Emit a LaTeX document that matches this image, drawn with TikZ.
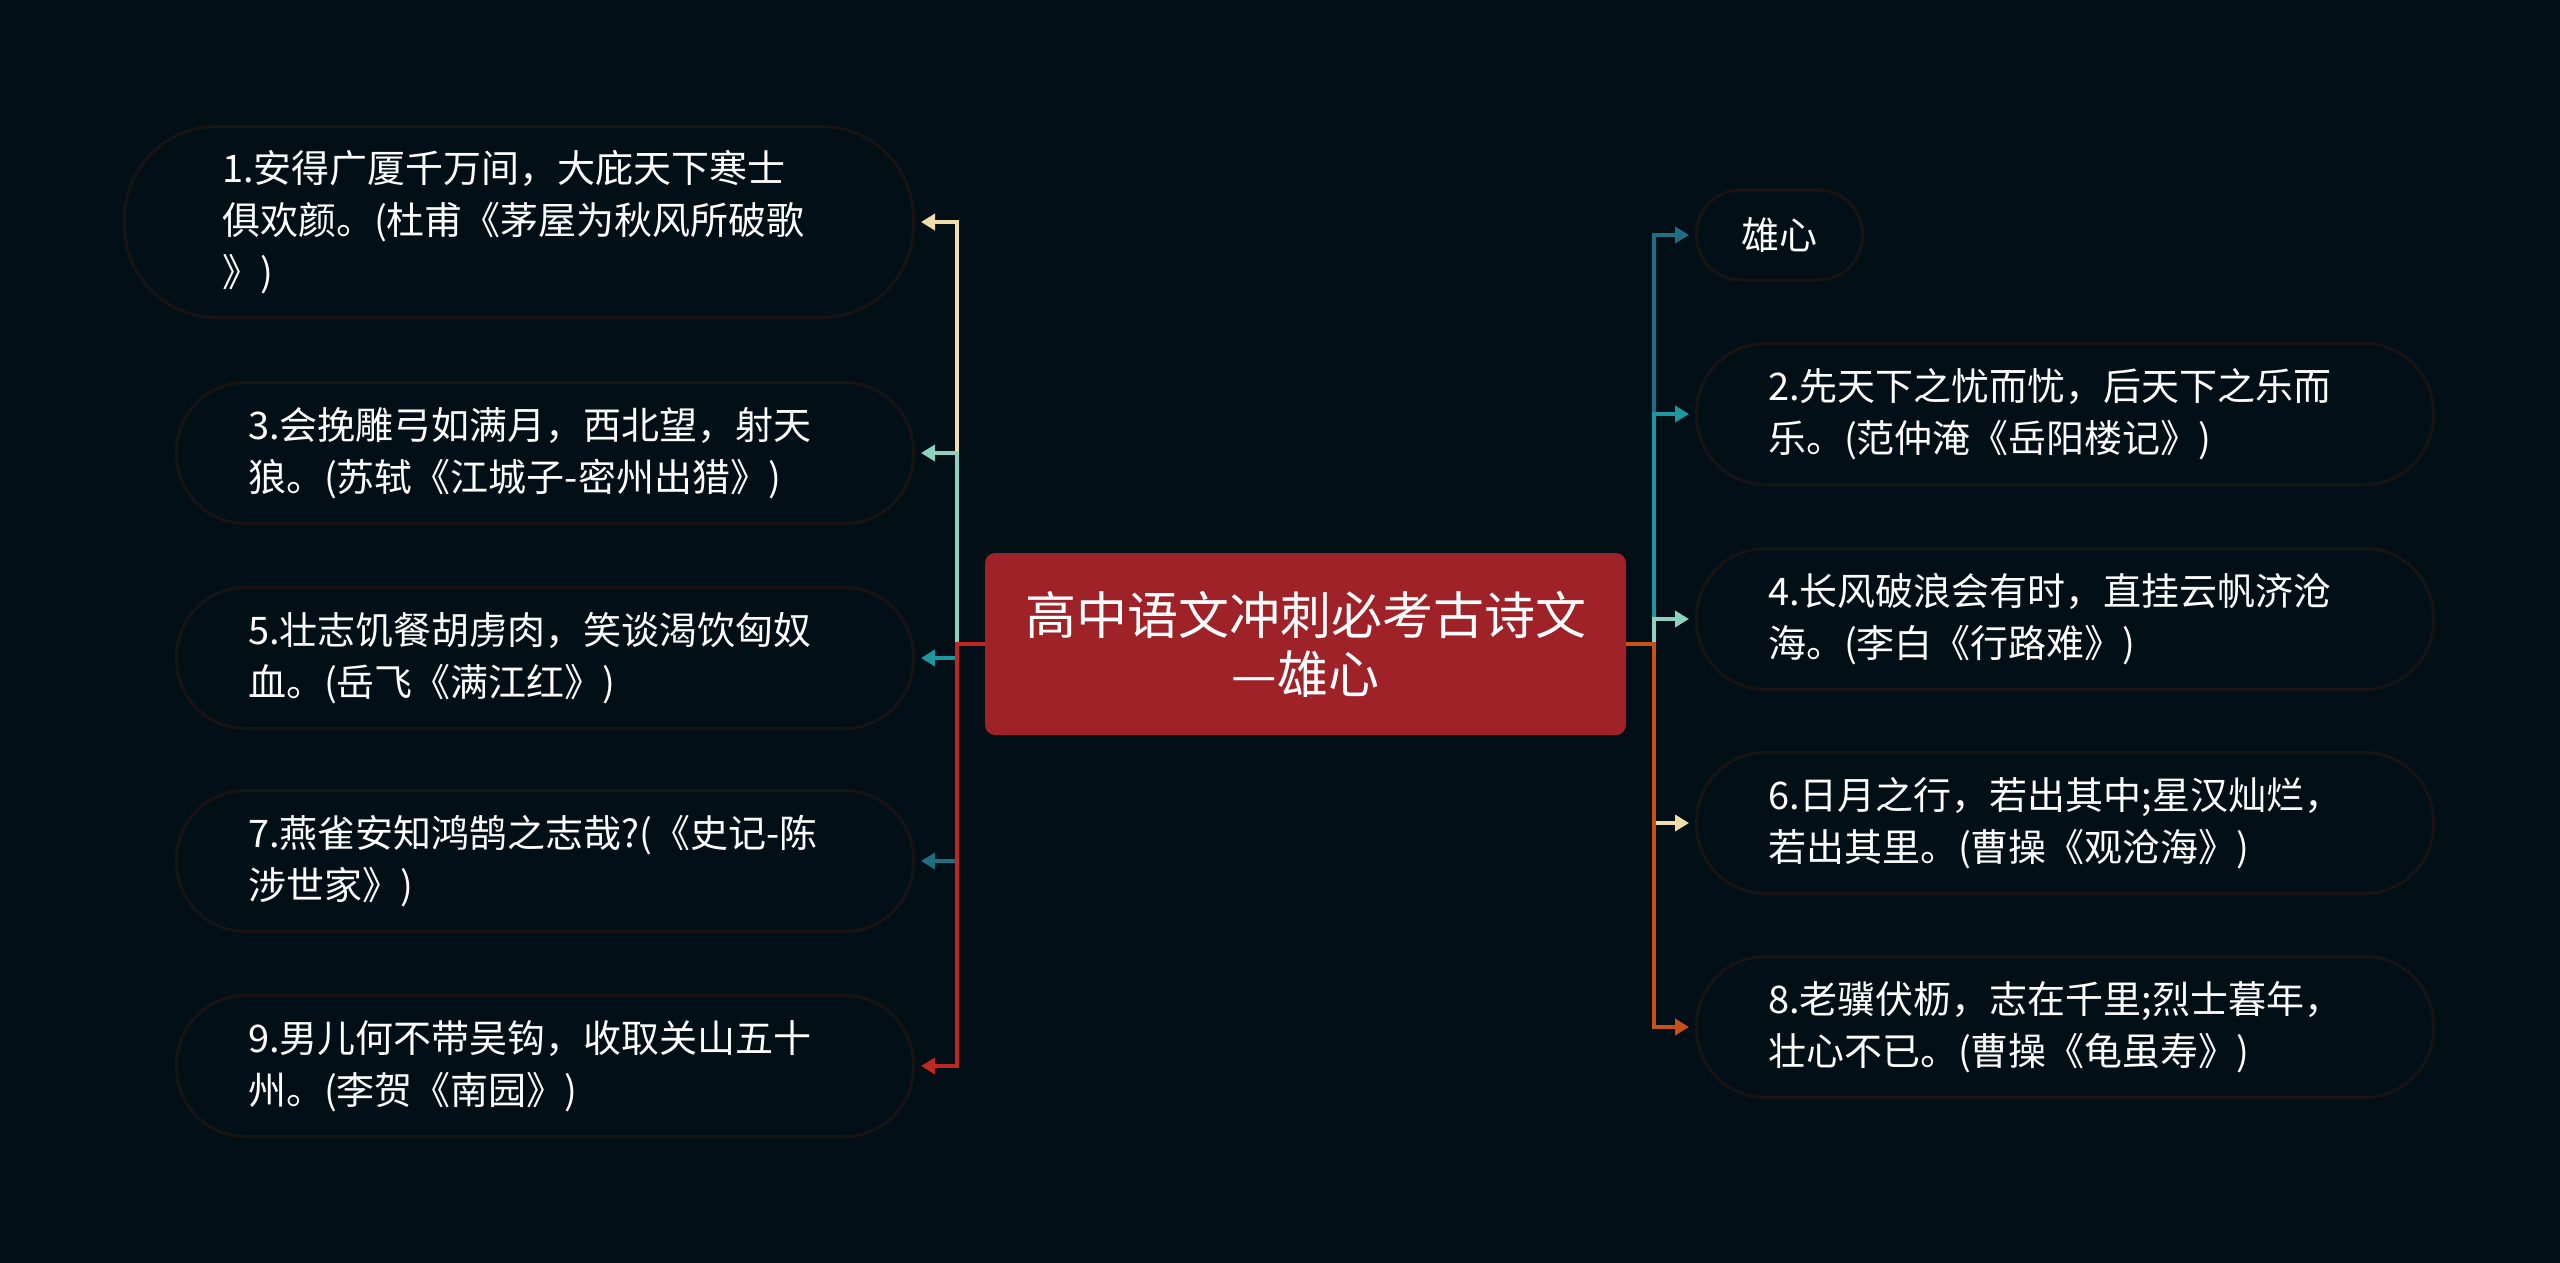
\documentclass[tikz,border=0pt]{standalone}
\usepackage{fontspec}
\setmainfont{Noto Sans CJK SC}
\usetikzlibrary{arrows.meta}
\definecolor{bg}{HTML}{030F17}
\definecolor{boxline}{HTML}{181414}
\definecolor{mainred}{HTML}{9E2228}
\definecolor{cream}{HTML}{F0DEAA}
\definecolor{mint}{HTML}{8DD1BE}
\definecolor{tealc}{HTML}{1E98A0}
\definecolor{darkteal}{HTML}{1F6E82}
\definecolor{redc}{HTML}{BE2823}
\definecolor{orangec}{HTML}{C85019}
\begin{document}
\begin{tikzpicture}[x=1pt,y=-1pt,
  leafbox/.style={draw=boxline, line width=3pt, fill=bg, text=white, align=left,
    text width=594pt, font=\fontsize{38pt}{52pt}\selectfont,
    rounded corners=69pt, inner ysep=0pt, inner xsep=71.5pt, minimum height=141pt},
  centerbox/.style={fill=mainred, rounded corners=10pt, minimum width=641pt,
    minimum height=182pt, align=center, text=white, inner sep=0pt,
    font=\fontsize{51pt}{59pt}\selectfont},
  conn/.style={line width=3.5pt, -{Triangle[length=14pt,width=16pt]}, shorten >=6pt}]
\path[fill=bg] (0,0) rectangle (2560,1263);
% center
\node[centerbox] (C) at (1305.5,644) {高中语文冲刺必考古诗文\\—雄心};
% left
\node[leafbox, anchor=east, inner xsep=97.5pt, minimum height=191pt, rounded corners=92pt] (L1) at (915,222)
  {1.安得广厦千万间，大庇天下寒士\\俱欢颜。(杜甫《茅屋为秋风所破歌\\》)};
\node[leafbox, anchor=east] (L3) at (915,453) {3.会挽雕弓如满月，西北望，射天\\狼。(苏轼《江城子-密州出猎》)};
\node[leafbox, anchor=east] (L5) at (915,658) {5.壮志饥餐胡虏肉，笑谈渴饮匈奴\\血。(岳飞《满江红》)};
\node[leafbox, anchor=east] (L7) at (915,861) {7.燕雀安知鸿鹄之志哉?(《史记-陈\\涉世家》)};
\node[leafbox, anchor=east] (L9) at (915,1066) {9.男儿何不带吴钩，收取关山五十\\州。(李贺《南园》)};
% right
\node[leafbox, anchor=west, text width=, inner xsep=45pt, minimum height=90pt, rounded corners=44pt] (R0) at (1695,235) {雄心};
\node[leafbox, anchor=west] (R2) at (1695,414) {2.先天下之忧而忧，后天下之乐而\\乐。(范仲淹《岳阳楼记》)};
\node[leafbox, anchor=west] (R4) at (1695,619) {4.长风破浪会有时，直挂云帆济沧\\海。(李白《行路难》)};
\node[leafbox, anchor=west] (R6) at (1695,823) {6.日月之行，若出其中;星汉灿烂，\\若出其里。(曹操《观沧海》)};
\node[leafbox, anchor=west] (R8) at (1695,1027) {8.老骥伏枥，志在千里;烈士暮年，\\壮心不已。(曹操《龟虽寿》)};
% connectors left
\draw[conn, cream] (C.west) -- ++(-28,0) |- (L1.east);
\draw[conn, mint] (C.west) -- ++(-28,0) |- (L3.east);
\draw[conn, tealc] (C.west) -- ++(-28,0) |- (L5.east);
\draw[conn, darkteal] (C.west) -- ++(-28,0) |- (L7.east);
\draw[conn, redc] (C.west) -- ++(-28,0) |- (L9.east);
% connectors right
\draw[conn, darkteal] (C.east) -- ++(28,0) |- (R0.west);
\draw[conn, tealc] (C.east) -- ++(28,0) |- (R2.west);
\draw[conn, mint] (C.east) -- ++(28,0) |- (R4.west);
\draw[conn, cream] (C.east) -- ++(28,0) |- (R6.west);
\draw[conn, orangec] (C.east) -- ++(28,0) |- (R8.west);
\end{tikzpicture}
\end{document}
